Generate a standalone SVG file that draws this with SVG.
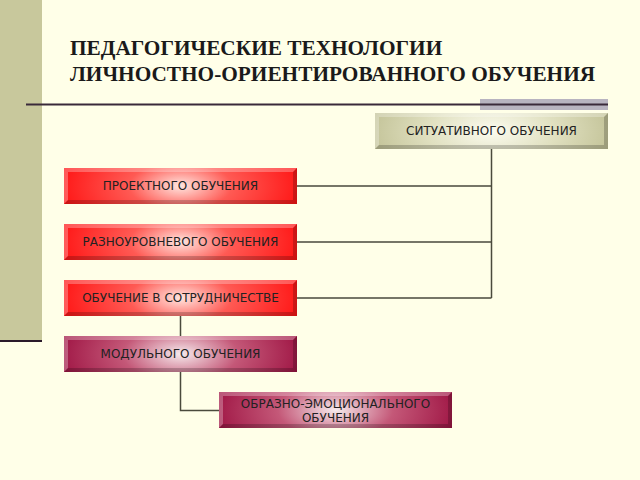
<svg xmlns="http://www.w3.org/2000/svg" width="640" height="480" viewBox="0 0 640 480">
<defs>
<style>
.title{font-family:"Liberation Serif","Times New Roman",serif;font-weight:bold;font-size:21.3px;fill:#1a1a1a}
.lbl{font-family:"DejaVu Sans","Liberation Sans",sans-serif;font-size:12px;fill:#222;text-anchor:middle}
.conn{fill:none;stroke:#4a4a3c;stroke-width:1.5}
.tl{fill:#fff;fill-opacity:0.28}
.br{fill:#000;fill-opacity:0.2}
</style>
<radialGradient id="gRed" cx="0.5" cy="0.5" r="0.55" gradientTransform="translate(0.5 0.5) scale(1 3) translate(-0.5 -0.5)">
<stop offset="0" stop-color="#ffe6e0"/>
<stop offset="0.4" stop-color="#ff5a54"/>
<stop offset="1" stop-color="#ff1010"/>
</radialGradient>
<radialGradient id="gMar" cx="0.5" cy="0.5" r="0.55" gradientTransform="translate(0.5 0.5) scale(1 3) translate(-0.5 -0.5)">
<stop offset="0" stop-color="#f6eaec"/>
<stop offset="0.45" stop-color="#c45878"/>
<stop offset="1" stop-color="#9c1040"/>
</radialGradient>
<radialGradient id="gOl" cx="0.5" cy="0.5" r="0.55" gradientTransform="translate(0.5 0.5) scale(1 3) translate(-0.5 -0.5)">
<stop offset="0" stop-color="#fcfcf0"/>
<stop offset="0.5" stop-color="#e0e0c0"/>
<stop offset="1" stop-color="#c0c094"/>
</radialGradient>
<polygon id="bTL" points="0,0 233,0 229,4 4,4 4,32 0,36"/>
<polygon id="bBR" points="233,0 233,36 0,36 4,32 229,32 229,4"/>
</defs>
<rect width="640" height="480" fill="#ffffe8"/>
<rect x="0" y="0" width="42" height="340" fill="#c8c89c"/>
<rect x="0" y="340" width="42" height="2" fill="#2a1a2a"/>
<rect x="480" y="99" width="128" height="11" fill="#b8b4c0"/>
<rect x="26" y="103.5" width="582" height="2" fill="#3a2a3a"/>
<text class="title" x="70" y="55">ПЕДАГОГИЧЕСКИЕ ТЕХНОЛОГИИ</text>
<text class="title" x="70" y="81">ЛИЧНОСТНО-ОРИЕНТИРОВАННОГО ОБУЧЕНИЯ</text>
<g id="connectors">
<path class="conn" d="M491.5,149 V298 M297,186 H491.5 M297,242 H491.5 M297,298 H491.5"/>
<path class="conn" d="M180.5,316 V336 M180.5,372 V410.5 H219"/>
</g>
<g id="n-situ" transform="translate(375 113)">
<rect width="233" height="36" fill="url(#gOl)"/>
<use href="#bTL" class="tl"/><use href="#bBR" class="br"/>
<text class="lbl" x="116.5" y="22">СИТУАТИВНОГО ОБУЧЕНИЯ</text>
</g>
<g id="n-proj" transform="translate(64 168)">
<rect width="233" height="36" fill="url(#gRed)"/>
<use href="#bTL" class="tl"/><use href="#bBR" class="br"/>
<text class="lbl" x="116.5" y="22">ПРОЕКТНОГО ОБУЧЕНИЯ</text>
</g>
<g id="n-razn" transform="translate(64 224)">
<rect width="233" height="36" fill="url(#gRed)"/>
<use href="#bTL" class="tl"/><use href="#bBR" class="br"/>
<text class="lbl" x="116.5" y="22">РАЗНОУРОВНЕВОГО ОБУЧЕНИЯ</text>
</g>
<g id="n-sotr" transform="translate(64 280)">
<rect width="233" height="36" fill="url(#gRed)"/>
<use href="#bTL" class="tl"/><use href="#bBR" class="br"/>
<text class="lbl" x="116.5" y="22">ОБУЧЕНИЕ В СОТРУДНИЧЕСТВЕ</text>
</g>
<g id="n-mod" transform="translate(64 336)">
<rect width="233" height="36" fill="url(#gMar)"/>
<use href="#bTL" class="tl"/><use href="#bBR" class="br"/>
<text class="lbl" x="116.5" y="22">МОДУЛЬНОГО ОБУЧЕНИЯ</text>
</g>
<g id="n-obr" transform="translate(219 392)">
<rect width="233" height="36" fill="url(#gMar)"/>
<use href="#bTL" class="tl"/><use href="#bBR" class="br"/>
<text class="lbl" x="116.5" y="15.5">ОБРАЗНО-ЭМОЦИОНАЛЬНОГО</text>
<text class="lbl" x="116.5" y="30">ОБУЧЕНИЯ</text>
</g>
</svg>
